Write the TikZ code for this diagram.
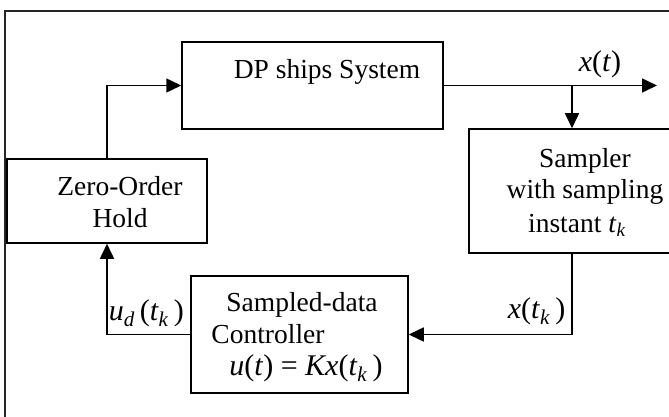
\documentclass[tikz,border=0pt]{standalone}
\usepackage{fontspec}
\setmainfont{Liberation Serif}
\usetikzlibrary{arrows.meta}
\colorlet{frameC}{black!85}
\newcommand{\iv}[1]{\textit{#1}}
\newcommand{\tk}{\iv{t}\textsubscript{\iv{k}}}

\begin{document}
\begin{tikzpicture}[x=1pt,y=-1pt,line width=1.5pt,
  >={Triangle[length=15pt,width=14pt]},
  every node/.style={font=\fontsize{27.5}{31}\selectfont},
  mathlab/.style={font=\fontsize{30}{34}\selectfont}]
\clip (0,0) rectangle (669,417);
% outer frame (runs off right and bottom)
\draw[frameC,line width=1.6pt] (5,430) -- (5,11) -- (700,11);

% blocks
\node[draw,shape=rectangle,minimum width=261pt,minimum height=87pt,inner sep=0pt]
(dpsys) at (312.5,85.5) {};
\node[draw,shape=rectangle,minimum width=200pt,minimum height=84pt,inner sep=0pt]
(zoh) at (107,201) {};
\node[draw,shape=rectangle,minimum width=231pt,minimum height=124pt,inner sep=0pt]
(sampler) at (584.5,191) {};
\node[draw,shape=rectangle,minimum width=217pt,minimum height=117pt,inner sep=0pt]
(ctrl) at (299.5,334.5) {};

% block texts
\node[anchor=base] (dptxt) at (327,79) {DP ships System};
\node[anchor=base] (zohtxtA) at (120,195) {Zero-Order};
\node[anchor=base] (zohtxtB) at (120,227) {Hold};
\node[anchor=base] (samtxtA) at (585,167) {Sampler};
\node[anchor=base] (samtxtB) at (585,198) {with sampling};
\node[anchor=base] (samtxtC) at (577,232) {instant \tk};
\node[anchor=base] (ctrltxtA) at (302,311) {Sampled-data};
\node[anchor=base] (ctrltxtB) at (268,343) {Controller};
\node[anchor=base,mathlab] (ctrltxtC) at (306,375) {\iv{u}(\iv{t}) = \iv{Kx}(\tk\,)};

% signals
\coordinate (outend) at (657,85.5);
\coordinate (tap) at (572,85.5);
\draw[->] (dpsys.east) -- (outend);
\draw[->] (tap) -- (tap |- sampler.north);
\draw[->] (tap |- sampler.south) |- (ctrl.east);
\draw[->] (ctrl.west) -| (zoh.south);
\draw[->] (zoh.north) |- (dpsys.west);

\node[anchor=base,mathlab] (xlab) at (600,72) {\iv{x}(\iv{t})};
\node[anchor=base east,inner sep=0pt,mathlab] (xklab) at (566,318) {\iv{x}(\tk\,)};
\node[anchor=base west,inner sep=0pt,mathlab] (udlab) at (108,320) {\iv{u}\textsubscript{\iv{d}}\,(\tk\,)};

\end{tikzpicture}
\end{document}
